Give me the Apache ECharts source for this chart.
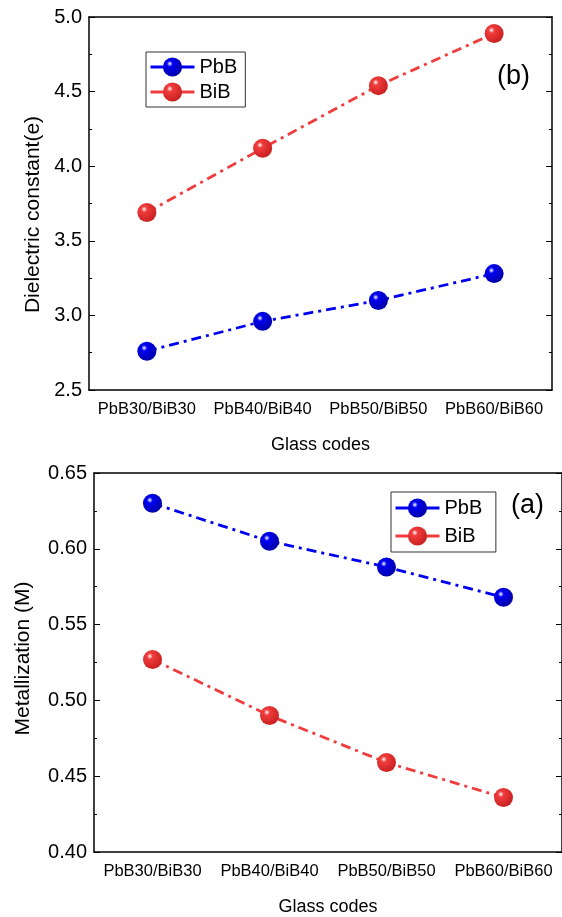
<!DOCTYPE html>
<html>
<head>
<meta charset="utf-8">
<script src="https://cdn.jsdelivr.net/npm/echarts@6/dist/echarts.min.js"></script>
<style>
  html, body { margin: 0; padding: 0; background: #fff; }
  #main { width: 562px; height: 917px; }
</style>
</head>
<body>
<div id="main"></div>
<script>
var categories = ['PbB30/BiB30', 'PbB40/BiB40', 'PbB50/BiB50', 'PbB60/BiB60'];

// (b) dielectric constant
var dielPbB = [2.76, 2.96, 3.10, 3.28];
var dielBiB = [3.69, 4.12, 4.54, 4.89];

// (a) metallization
var metPbB = [0.630, 0.605, 0.588, 0.568];
var metBiB = [0.527, 0.490, 0.459, 0.436];

var FONT = 'Liberation Sans, Arial, sans-serif';
var BLUE = '#0000f0';
var RED = '#f03c3c';

function sphere(c, dark) {
    return {
        type: 'radial', x: 0.36, y: 0.33, r: 0.7,
        colorStops: [
            { offset: 0, color: '#ffffff' },
            { offset: 0.22, color: c },
            { offset: 1, color: dark }
        ]
    };
}

function xAxes(gi) {
    var base = {
        type: 'category', data: categories, gridIndex: gi,
        axisLine: { lineStyle: { color: '#000', width: 1.5 } }
    };
    return [
        Object.assign({}, base, {
            position: 'bottom',
            name: 'Glass codes', nameLocation: 'middle', nameGap: 46,
            nameTextStyle: { fontFamily: FONT, fontSize: 18, color: '#000' },
            axisTick: { alignWithLabel: true, inside: true, length: 6, lineStyle: { color: '#000' } },
            axisLabel: { interval: 0, hideOverlap: false, fontFamily: FONT, fontSize: 16.5, color: '#000', margin: 11 }
        }),
        Object.assign({}, base, {
            position: 'bottom',
            axisLine: { show: false },
            axisTick: { inside: true, length: 3, lineStyle: { color: '#000' } },
            axisLabel: { show: false }
        }),
        Object.assign({}, base, {
            position: 'top',
            axisTick: { alignWithLabel: true, inside: true, length: 6, lineStyle: { color: '#000' } },
            axisLabel: { show: false }
        }),
        Object.assign({}, base, {
            position: 'top',
            axisLine: { show: false },
            axisTick: { inside: true, length: 3, lineStyle: { color: '#000' } },
            axisLabel: { show: false }
        })
    ];
}

function yAxes(gi, min, max, step, name, gap, pad, fmt) {
    var base = {
        type: 'value', gridIndex: gi, min: min, max: max, interval: step,
        splitLine: { show: false },
        axisLine: { show: true, lineStyle: { color: '#000', width: 1.5 } },
        axisTick: { show: true, inside: true, length: 6, lineStyle: { color: '#000' } },
        minorTick: { show: true, splitNumber: 2, length: 3, lineStyle: { color: '#000' } }
    };
    return [
        Object.assign({}, base, {
            position: 'left',
            name: name, nameLocation: 'middle', nameGap: gap,
            nameTextStyle: { fontFamily: FONT, fontSize: 21, color: '#000', padding: pad },
            axisLabel: { fontFamily: FONT, fontSize: 20, color: '#000', margin: 7, formatter: fmt }
        }),
        Object.assign({}, base, {
            position: 'right',
            axisLabel: { show: false }
        })
    ];
}

function lineSeries(name, data, xi, yi, c, dark) {
    return {
        name: name, type: 'line', data: data,
        xAxisIndex: xi, yAxisIndex: yi,
        symbol: 'circle', symbolSize: 19,
        itemStyle: { color: sphere(c, dark), borderWidth: 0 },
        lineStyle: { color: c, width: 2.8, type: [10, 5, 3, 5] },
        z: 5
    };
}

var chart = echarts.init(document.getElementById('main'));

var legendText = { fontFamily: FONT, fontSize: 20, color: '#000' };

chart.setOption({
    animation: false,
    backgroundColor: '#fff',
    grid: [
        { left: 89, top: 17, width: 463, height: 373 },
        { left: 94, top: 473, width: 470, height: 380 }
    ],
    xAxis: xAxes(0).concat(xAxes(1)),
    yAxis: yAxes(0, 2.5, 5.0, 0.5, 'Dielectric constant(e)', 34, [0, 22, 0, 0], function (v) { return v.toFixed(1); })
        .concat(yAxes(1, 0.40, 0.65, 0.05, 'Metallization (M)', 60, [0, 0, 0, 8], function (v) { return v.toFixed(2); })),
    legend: [
        {
            left: 146, top: 52, orient: 'vertical',
            data: ['PbB', 'BiB'],
            itemWidth: 44, itemHeight: 24, itemGap: 5,
            lineStyle: { type: 'solid', width: 3 },
            borderColor: '#333', borderWidth: 1, padding: [5, 8, 5, 3],
            textStyle: legendText
        },
        {
            left: 391, top: 492, orient: 'vertical',
            data: ['PbB ', 'BiB '],
            itemWidth: 44, itemHeight: 24, itemGap: 8,
            lineStyle: { type: 'solid', width: 3 },
            borderColor: '#333', borderWidth: 1, padding: [6, 8, 6, 3],
            textStyle: legendText
        }
    ],
    graphic: [
        { type: 'text', left: 497, top: 63, style: { text: '(b)', font: '27px ' + FONT, fill: '#000' } },
        { type: 'text', left: 511, top: 492, style: { text: '(a)', font: '27px ' + FONT, fill: '#000' } }
    ],
    series: [
        lineSeries('PbB', dielPbB, 0, 0, BLUE, '#0000a8'),
        lineSeries('BiB', dielBiB, 0, 0, RED, '#c82020'),
        lineSeries('PbB ', metPbB, 4, 2, BLUE, '#0000a8'),
        lineSeries('BiB ', metBiB, 4, 2, RED, '#c82020')
    ]
});
</script>
</body>
</html>
